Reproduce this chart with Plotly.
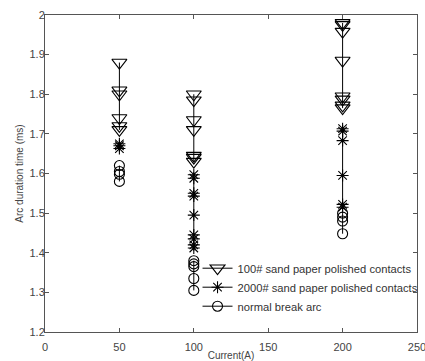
import plotly.graph_objects as go

currents = [50, 100, 200]
sand100 = {
    50: [1.88, 1.81, 1.80, 1.74, 1.72, 1.71],
    100: [1.80, 1.785, 1.735, 1.71, 1.645, 1.64, 1.63],
    200: [1.98, 1.975, 1.958, 1.885, 1.795, 1.787, 1.772, 1.765],
}
sand2000 = {
    50: [1.675, 1.67, 1.663],
    100: [1.597, 1.588, 1.55, 1.543, 1.495, 1.445, 1.435, 1.42, 1.412],
    200: [1.713, 1.707, 1.683, 1.595, 1.522, 1.515],
}
normal = {
    50: [1.62, 1.605, 1.598, 1.58],
    100: [1.38, 1.372, 1.365, 1.335, 1.305],
    200: [1.50, 1.49, 1.48, 1.448],
}
names = ["100# sand paper polished contacts", "2000# sand paper polished contacts", "normal break arc"]
x_ticks = [0, 50, 100, 150, 200, 250]
y_ticks = [1.2, 1.3, 1.4, 1.5, 1.6, 1.7, 1.8, 1.9, 2.0]
y_labels = ["1.2", "1.3", "1.4", "1.5", "1.6", "1.7", "1.8", "1.9", "2"]


def flatten(d):
    xs, ys = [], []
    for c in currents:
        xs += [c] * len(d[c]) + [None]
        ys += d[c] + [None]
    return xs, ys


fig = go.Figure()
styles = [("triangle-down-open", 13), ("asterisk-open", 10), ("circle-open", 10)]
for data, name, (sym, sz) in zip([sand100, sand2000, normal], names, styles):
    xs, ys = flatten(data)
    fig.add_trace(go.Scatter(
        x=xs, y=ys, name=name, mode="lines+markers",
        line=dict(color="black", width=1),
        marker=dict(symbol=sym, size=sz, color="black", line=dict(color="black", width=1.1)),
        connectgaps=False,
    ))

FONT = "Arial, Liberation Sans"
axis_common = dict(
    showgrid=False, zeroline=False, showline=True, linecolor="#555", linewidth=1,
    mirror="allticks", ticks="inside", ticklen=4, tickcolor="#555",
    tickfont=dict(family=FONT, size=11, color="#444"),
)
fig.update_xaxes(range=[0, 250], tickvals=x_ticks, ticklabeloverflow="allow",
                 ticklabelstandoff=5,
                 title=dict(text="Current(A)", font=dict(family=FONT, size=10, color="#444"), standoff=4),
                 **axis_common)
fig.update_yaxes(range=[1.2, 2.0], tickvals=y_ticks, ticktext=y_labels,
                 ticklabelstandoff=-3,
                 title=dict(text="Arc duration time (ms)", font=dict(family=FONT, size=10, color="#444"), standoff=4),
                 **axis_common)
fig.update_layout(
    width=425, height=361,
    margin=dict(l=45, r=8, t=15, b=29, autoexpand=False),
    plot_bgcolor="white", paper_bgcolor="white",
    legend=dict(x=0.41, y=0.247, xanchor="left", yanchor="top",
                bgcolor="rgba(255,255,255,0)", borderwidth=0,
                font=dict(family=FONT, size=11.2, color="#333"),
                tracegroupgap=0, itemwidth=30),
    showlegend=True,
)
fig.write_html("out.html", config={"displayModeBar": False},
               post_script="document.body.style.margin='0';")
